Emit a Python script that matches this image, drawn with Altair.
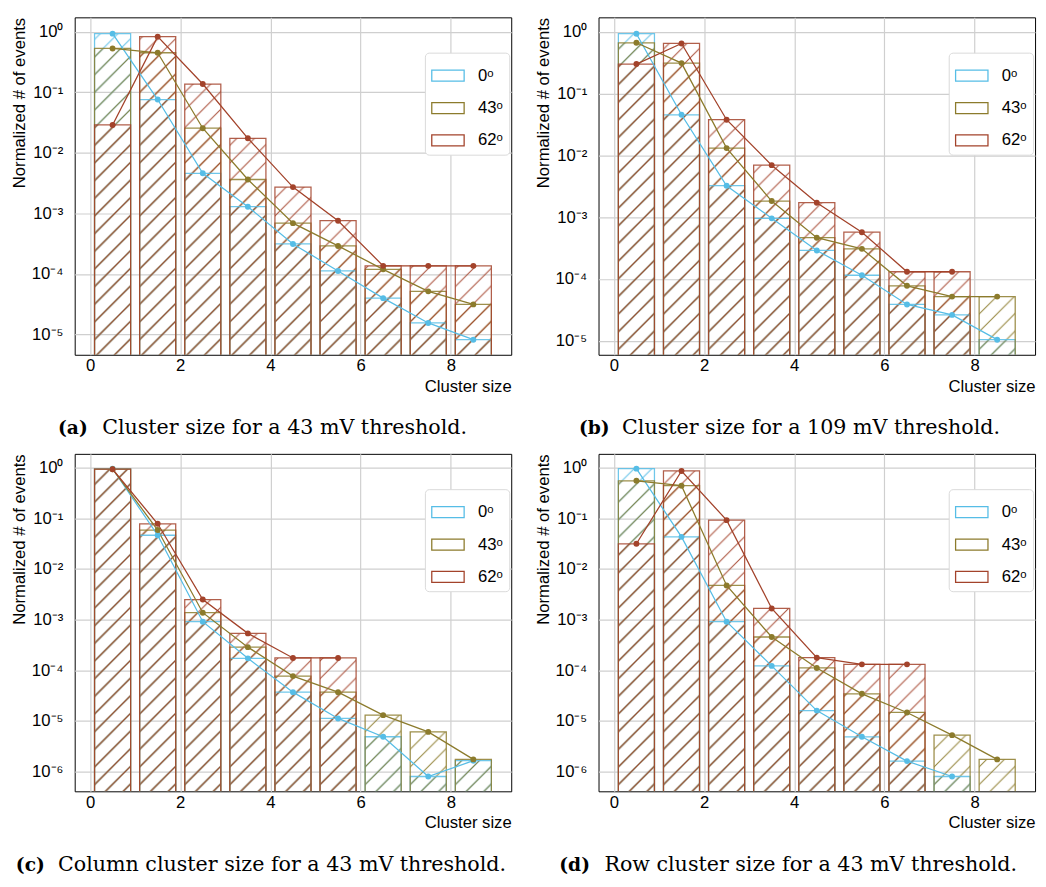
import base64
import math
import altair as alt
import pandas as pd

# ---------------- data ----------------
centers = [0.5, 1.5, 2.5, 3.5, 4.5, 5.5, 6.5, 7.5, 8.5]
angles = ["0ᵒ", "43ᵒ", "62ᵒ"]
colors = ["#56bde6", "#8c7b2c", "#a3432b"]

# (a) cluster size, 43 mV threshold
a_0 = [0.93, 0.076, 0.0046, 0.00129, 3.13e-4, 1.12e-4, 3.98e-5, 1.55e-5, 8.2e-6]
a_43 = [0.53, 0.45, 0.0255, 0.00363, 6.9e-4, 2.9e-4, 1.19e-4, 5.16e-5, 3.14e-5]
a_62 = [0.0289, 0.83, 0.137, 0.0174, 0.00272, 7.57e-4, 1.36e-4, 1.36e-4, 1.36e-4]
# (b) cluster size, 109 mV threshold
b_0 = [0.94, 0.0457, 0.00324, 9.6e-4, 2.9e-4, 1.15e-4, 3.87e-5, 2.62e-5, 1.04e-5]
b_43 = [0.67, 0.314, 0.0132, 0.00183, 4.66e-4, 3.08e-4, 7.76e-5, 5.19e-5, 5.19e-5]
b_62 = [0.303, 0.653, 0.038, 0.00698, 0.00172, 5.73e-4, 1.31e-4, 1.31e-4, None]
# (c) column cluster size, 43 mV threshold
c_0 = [0.95, 0.0463, 9.1e-4, 1.72e-4, 3.7e-5, 1.12e-5, 4.87e-6, 8.0e-7, 1.64e-6]
c_43 = [0.93, 0.0587, 0.00137, 2.86e-4, 7.68e-5, 3.7e-5, 1.3e-5, 6.08e-6, 1.74e-6]
c_62 = [0.93, 0.078, 0.00249, 5.35e-4, 1.75e-4, 1.75e-4, None, None, None]
# (d) row cluster size, 43 mV threshold
d_0 = [0.955, 0.043, 9.1e-4, 1.22e-4, 1.6e-5, 4.86e-6, 1.61e-6, 8.0e-7, None]
d_43 = [0.55, 0.44, 0.00472, 4.54e-4, 1.11e-4, 3.43e-5, 1.47e-5, 5.24e-6, 1.74e-6]
d_62 = [0.0314, 0.86, 0.0919, 0.00166, 1.77e-4, 1.31e-4, 1.31e-4, None, None]

x_ticks = [0, 2, 4, 6, 8]
y_ticks_ab = [1e-5, 1e-4, 1e-3, 1e-2, 1e-1, 1]
y_ticks_cd = [1e-6, 1e-5, 1e-4, 1e-3, 1e-2, 1e-1, 1]

tags = ["(a)", "(b)", "(c)", "(d)"]
captions = [
    "Cluster size for a 43 mV threshold.",
    "Cluster size for a 109 mV threshold.",
    "Column cluster size for a 43 mV threshold.",
    "Row cluster size for a 43 mV threshold.",
]

# ---------------- styling ----------------
W, H = 445, 344
HATCH = 18
SANS = "Liberation Sans"
SERIF = "DejaVu Serif"

SUP = {0: "⁰", -1: "⁻¹", -2: "⁻²", -3: "⁻³", -4: "⁻⁴", -5: "⁻⁵", -6: "⁻⁶"}


def label_expr(ticks):
    expr = "''"
    for t in sorted(ticks):
        e = int(round(math.log10(t)))
        expr = f"datum.value > {t * 0.5} ? '10{SUP[e]}' : ({expr})"
    return expr


def hatch_uri(color):
    s = HATCH
    svg = (
        "<svg xmlns='http://www.w3.org/2000/svg' width='100%' height='100%'>"
        f"<defs><pattern id='p' patternUnits='userSpaceOnUse' x='0' y='100%' width='{s}' height='{s}'>"
        f"<path d='M0,{s} L{s},0 M-2,2 L2,-2 M{s-2},{s+2} L{s+2},{s-2}' "
        f"stroke='{color}' stroke-width='1.1' stroke-opacity='0.9' fill='none'/>"
        "</pattern></defs><rect width='100%' height='100%' fill='url(#p)'/></svg>"
    )
    return "data:image/svg+xml;base64," + base64.b64encode(svg.encode()).decode()


def panel(series, ydom, yticks, tag, caption, tag_x, text_x):
    rows = []
    for ang, arr in zip(angles, series):
        for c, v in zip(centers, arr):
            if v is not None:
                rows.append({"angle": ang, "center": c, "left": c - 0.4,
                             "right": c + 0.4, "value": v, "base": 1e-8})
    df = pd.DataFrame(rows)
    base = alt.Chart(df)

    xs = alt.Scale(domain=[-0.34, 9.34], nice=False, zero=False)
    ys = alt.Scale(type="log", domain=ydom, nice=False)
    xaxis = alt.Axis(values=x_ticks, format="d", title="Cluster size",
                     titleAnchor="end", labelPadding=3, titlePadding=5)
    yaxis = alt.Axis(values=yticks, labelExpr=label_expr(yticks),
                     title="Normalized # of events", titleAnchor="end",
                     labelPadding=12, titlePadding=3)
    X = lambda f: alt.X(f, type="quantitative", scale=xs, axis=xaxis)
    Y = lambda f: alt.Y(f, type="quantitative", scale=ys, axis=yaxis)
    cscale = alt.Scale(domain=angles, range=colors)

    layers = []
    for ang, col in zip(angles, colors):
        layers.append(
            base.transform_filter(alt.datum.angle == ang)
            .mark_image(aspect=False, clip=True)
            .encode(x=X("left"), x2="right", y=Y("value"), y2="base",
                    url=alt.value(hatch_uri(col)))
        )
    layers.append(
        base.mark_rect(fillOpacity=0, fill="white", strokeWidth=1.3,
                       strokeOpacity=0.85, clip=True)
        .encode(
            x=X("left"), x2="right", y=Y("value"), y2="base",
            stroke=alt.Stroke(
                "angle:N", scale=cscale,
                legend=alt.Legend(
                    title=None, orient="none", legendX=357, legendY=36,
                    symbolType="M-1,-0.34H1V0.34H-1Z", symbolSize=1089,
                    symbolStrokeWidth=1.3, symbolFillColor="transparent",
                    labelFontSize=17, labelFont=SANS, labelColor="#000000",
                    labelOffset=13, rowPadding=7, padding=6,
                    fillColor="white", strokeColor="#d9d9d9", cornerRadius=4,
                ),
            ),
        )
    )
    layers.append(
        base.mark_line(strokeWidth=1.3, clip=True).encode(
            x=X("center"), y=Y("value"),
            color=alt.Color("angle:N", scale=cscale, legend=None))
    )
    layers.append(
        base.mark_circle(size=36, opacity=1, clip=False).encode(
            x=X("center"), y=Y("value"),
            color=alt.Color("angle:N", scale=cscale, legend=None))
    )
    cap_y = H + 75
    layers.append(
        alt.Chart(pd.DataFrame({"t": [tag]})).mark_text(
            font=SERIF, fontSize=19, fontWeight="bold", align="left",
            baseline="middle", color="black")
        .encode(text="t:N", x=alt.value(tag_x), y=alt.value(cap_y))
    )
    layers.append(
        alt.Chart(pd.DataFrame({"t": [caption]})).mark_text(
            font=SERIF, fontSize=21, align="left", baseline="middle",
            color="black")
        .encode(text="t:N", x=alt.value(text_x), y=alt.value(cap_y))
    )
    return alt.layer(*layers).properties(width=W, height=H)


pa = panel([a_0, a_43, a_62], [4.62e-6, 1.73], y_ticks_ab, tags[0], captions[0], -17, 28)
pb = panel([b_0, b_43, b_62], [5.92e-6, 1.73], y_ticks_ab, tags[1], captions[1], -20, 24)
pc = panel([c_0, c_43, c_62], [4.08e-7, 1.87], y_ticks_cd, tags[2], captions[2], -60, -17)
pd_ = panel([d_0, d_43, d_62], [4.08e-7, 1.87], y_ticks_cd, tags[3], captions[3], -40, 6)

row1 = alt.hconcat(pa, pb, spacing=22).resolve_scale(stroke="independent").resolve_legend(stroke="independent")
row2 = alt.hconcat(pc, pd_, spacing=22).resolve_scale(stroke="independent").resolve_legend(stroke="independent")

chart = (
    alt.vconcat(row1, row2, spacing=14)
    .resolve_scale(stroke="independent")
    .resolve_legend(stroke="independent")
    .properties(padding={"left": 2, "top": 0, "right": 2, "bottom": 2}, background="white")
    .configure_view(stroke="#000000", strokeWidth=1)
    .configure_axis(
        labelFont=SANS, labelFontSize=17, labelColor="#000000",
        titleFont=SANS, titleFontSize=17, titleFontWeight="normal",
        titleColor="#000000", gridColor="#cfcfcf", gridWidth=1.2,
        domain=False, ticks=False,
    )
)

chart.save("out.html", embed_options={"renderer": "svg", "actions": False})
